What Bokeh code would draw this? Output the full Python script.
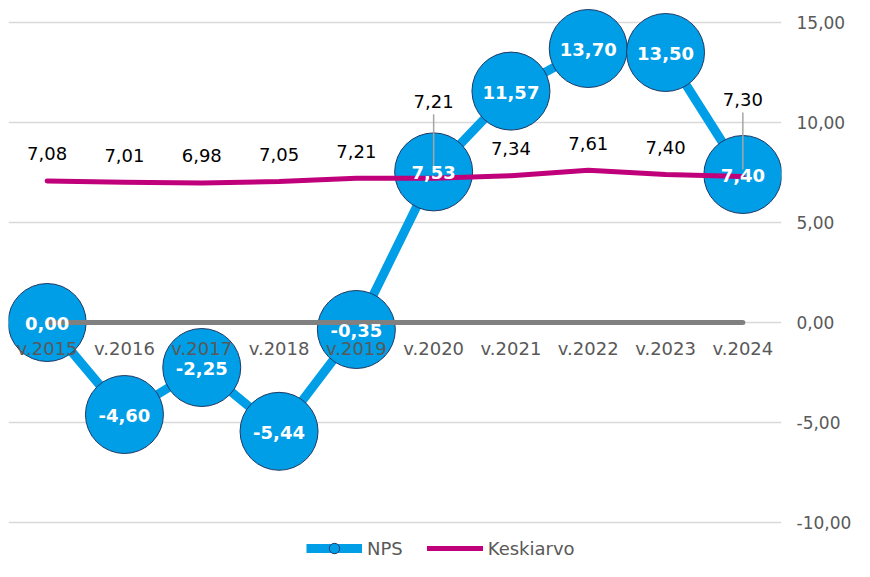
from bokeh.plotting import figure
from bokeh.models import (ColumnDataSource, FactorRange, Range1d, FixedTicker,
                          CustomJSTickFormatter, Legend, LegendItem)
from bokeh.core.properties import value
from bokeh.embed import file_html
from bokeh.resources import INLINE

# ---- data ----
categories = ["v.2015", "v.2016", "v.2017", "v.2018", "v.2019",
              "v.2020", "v.2021", "v.2022", "v.2023", "v.2024"]
nps = [0.00, -4.60, -2.25, -5.44, -0.35, 7.53, 11.57, 13.70, 13.50, 7.40]
keskiarvo = [7.08, 7.01, 6.98, 7.05, 7.21, 7.21, 7.34, 7.61, 7.40, 7.30]
baseline = [0, 0, 0, 0, 0, 0, 0, 0, 0, 0]
y_ticks = [-10, -5, 0, 5, 10, 15]


def fmt(v):
    return f"{v:.2f}".replace(".", ",")


FONT = value("DejaVu Sans")
NPS_BLUE = "#009EE6"
MAGENTA = "#C0007A"
TXT_GRAY = "#595959"

# labels raised with leader lines (to avoid the bubbles)
raised = {"v.2020", "v.2024"}

src_nps = ColumnDataSource(dict(x=categories, y=nps, lbl=[fmt(v) for v in nps]))
src_k = ColumnDataSource(dict(
    x=categories, y=keskiarvo, lbl=[fmt(v) for v in keskiarvo],
    yoff=[-77 if c in raised else -27 for c in categories]))
lead_x = [c for c in categories if c in raised]
lead_v = [v for c, v in zip(categories, keskiarvo) if c in raised]
src_lead = ColumnDataSource(dict(x=lead_x,
                                 y0=[v + 0.35 for v in lead_v],
                                 y1=[v + 3.2 for v in lead_v]))
src_cat = ColumnDataSource(dict(x=categories, y=baseline))

p = figure(width=854, height=561, output_backend="svg", toolbar_location=None,
           x_range=FactorRange(factors=categories, range_padding=0),
           y_range=Range1d(-11.95, 16.1),
           x_axis_location=None, y_axis_location="right",
           min_border_left=8, min_border_right=70, min_border_top=0,
           min_border_bottom=0)
p.outline_line_color = None
p.background_fill_color = "white"
p.border_fill_color = "white"
p.xgrid.grid_line_color = None

ticker = FixedTicker(ticks=y_ticks)
ax = p.yaxis[0]
ax.ticker = ticker
ax.formatter = CustomJSTickFormatter(code="return tick.toFixed(2).replace('.', ',');")
ax.axis_line_color = None
ax.major_tick_line_color = None
ax.minor_tick_line_color = None
ax.major_tick_out = 0
ax.major_tick_in = 0
ax.major_label_standoff = 15
ax.major_label_text_font = "DejaVu Sans"
ax.major_label_text_font_size = "17px"
ax.major_label_text_color = TXT_GRAY
p.ygrid.ticker = ticker
p.ygrid.grid_line_color = "#D9D9D9"
p.ygrid.grid_line_width = 1.5

# NPS series
r_nps_line = p.line("x", "y", source=src_nps, line_color=NPS_BLUE, line_width=9,
                    line_join="round")
r_nps_pts = p.scatter("x", "y", source=src_nps, size=78, fill_color=NPS_BLUE,
                      line_color="#1F3864", line_width=1)

# zero baseline
p.line("x", "y", source=src_cat, line_color="#808080", line_width=5, line_cap="round")

# Keskiarvo series
r_k = p.line("x", "y", source=src_k, line_color=MAGENTA, line_width=5,
             line_cap="round", line_join="round")

# leader lines
p.segment(x0="x", y0="y0", x1="x", y1="y1", source=src_lead,
          line_color="#A6A6A6", line_width=1.5)

# category labels along the zero line
p.text("x", "y", text="x", source=src_cat, y_offset=26, text_align="center",
       text_baseline="middle", text_font=FONT, text_font_size="18px",
       text_color=TXT_GRAY)

# Keskiarvo labels
p.text("x", "y", text="lbl", source=src_k, y_offset="yoff", text_align="center",
       text_baseline="middle", text_font=FONT, text_font_size="18px",
       text_color="black")

# NPS labels
p.text("x", "y", text="lbl", source=src_nps, y_offset=1, text_align="center",
       text_baseline="middle", text_font=FONT, text_font_size="18px",
       text_font_style="bold", text_color="white")

legend = Legend(items=[LegendItem(label="NPS", renderers=[r_nps_line, r_nps_pts]),
                       LegendItem(label="Keskiarvo", renderers=[r_k])],
                orientation="horizontal", location=(298, 0),
                glyph_width=56, glyph_height=26, label_standoff=5, spacing=24,
                padding=0, margin=0, border_line_color=None,
                background_fill_alpha=0,
                label_text_font="DejaVu Sans", label_text_font_size="18px",
                label_text_color=TXT_GRAY)
p.add_layout(legend, "center")

open("out.html", "w").write(file_html(p, INLINE))
